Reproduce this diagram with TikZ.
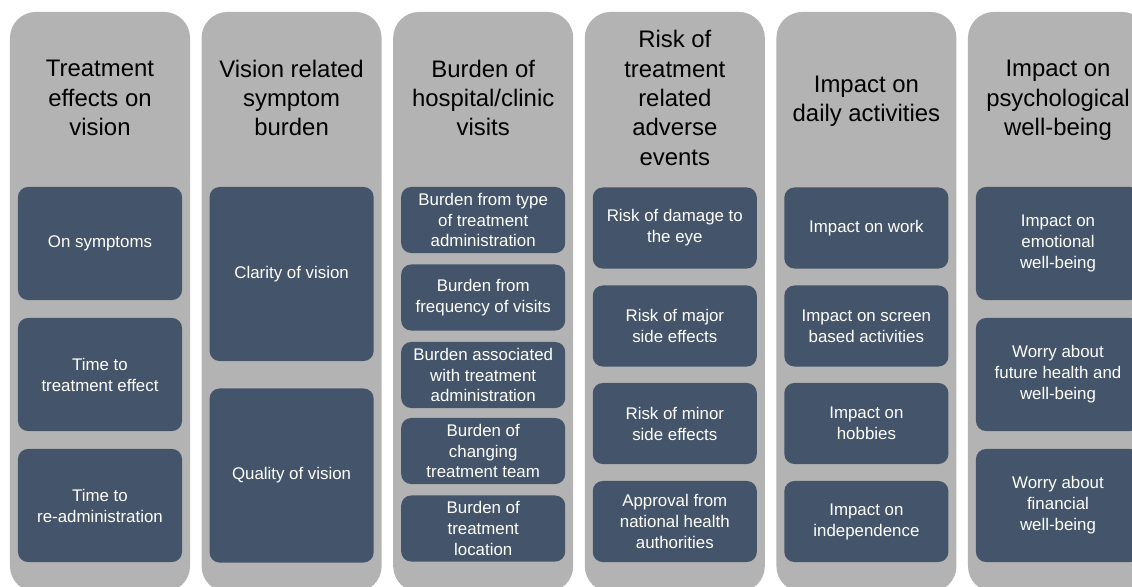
\documentclass[tikz,border=0pt]{standalone}
\usepackage{fontspec}
\setmainfont{Liberation Sans}
\usetikzlibrary{calc}

\definecolor{colgrey}{HTML}{B3B3B3}
\definecolor{boxblue}{HTML}{44546A}

\tikzset{
    column/.style={fill=colgrey, rounded corners=0.65cm, minimum width=4.5cm, minimum height=14.5cm, inner sep=0pt},
    heading/.style={align=center, text=black, font=\fontsize{17}{20.9}\selectfont},
    item/.style={fill=boxblue, rounded corners=0.25cm, minimum width=4.1cm, inner sep=0pt, text=white, align=center, font=\fontsize{12}{14.9}\selectfont}
}

\begin{document}
\begin{tikzpicture}[x=0.025cm, y=-0.025cm]
            \useasboundingbox (0,0) rectangle (1132,586);
            \clip (0,0) rectangle (1132,586);

            % grey columns with their headings
            \foreach \i/\x/\ty/\head in {1/100/98/{Treatment\\effects on\\vision},
                                         2/291.6/98/{Vision related\\symptom\\burden},
                                         3/483.2/98/{Burden of\\hospital/clinic\\visits},
                                         4/674.8/98/{Risk of\\treatment\\related\\adverse\\events},
                                         5/866.4/101/{Impact on\\daily activities},
                                         6/1058/100.5/{Impact on\\psychological\\well-being}}
                {
                    \node [column] (col\i) at (\x,302) {};
                    \node [heading] (t\i) at (\x,\ty) {\head};
                }

            % column 1
            \foreach \n/\y/\txt in {1/243.5/{On symptoms}, 2/374.5/{Time to\\treatment effect}, 3/505.5/{Time to\\re-administration}}
                \node [item, minimum height=2.825cm] (b1\n) at (100,\y) {\txt};

            % column 2
            \foreach \n/\y/\txt in {1/274/{Clarity of vision}, 2/475.5/{Quality of vision}}
                \node [item, minimum height=4.35cm] (b2\n) at (291.6,\y) {\txt};

            % column 3
            \foreach \n/\y/\txt in {1/220/{Burden from type\\of treatment\\administration},
                                    2/297.5/{Burden from\\frequency of visits},
                                    3/375/{Burden associated\\with treatment\\administration},
                                    4/451/{Burden of\\changing\\treatment team},
                                    5/528.5/{Burden of\\treatment\\location}}
                \node [item, minimum height=1.65cm] (b3\n) at (483.2,\y) {\txt};

            % column 4
            \foreach \n/\y/\txt in {1/228/{Risk of damage to\\the eye},
                                    2/326/{Risk of major\\side effects},
                                    3/423.5/{Risk of minor\\side effects},
                                    4/521.5/{Approval from\\national health\\authorities}}
                \node [item, minimum height=2.025cm] (b4\n) at (674.8,\y) {\txt};

            % column 5
            \foreach \n/\y/\txt in {1/228/{Impact on work},
                                    2/326/{Impact on screen\\based activities},
                                    3/423.5/{Impact on\\hobbies},
                                    4/521.5/{Impact on\\independence}}
                \node [item, minimum height=2.025cm] (b5\n) at (866.4,\y) {\txt};

            % column 6
            \foreach \n/\y/\txt in {1/243.5/{Impact on\\emotional\\well-being}, 2/374.5/{Worry about\\future health and\\well-being}, 3/505.5/{Worry about\\financial\\well-being}}
                \node [item, minimum height=2.825cm] (b6\n) at (1058,\y) {\txt};

        \end{tikzpicture}
\end{document}
